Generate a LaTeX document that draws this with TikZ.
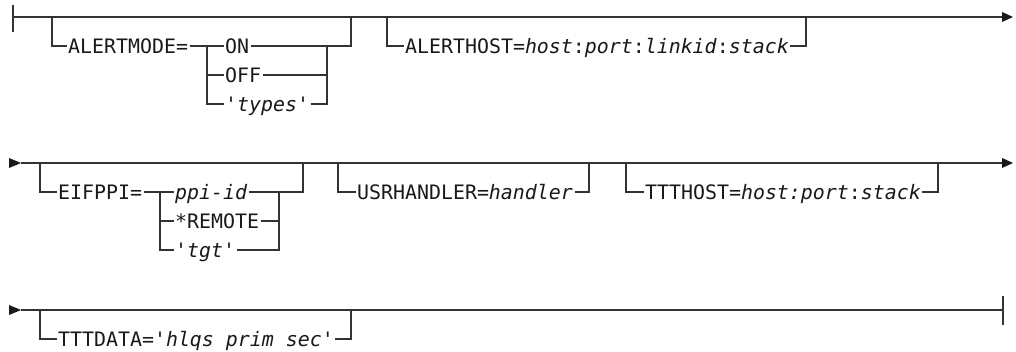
\documentclass[tikz,border=0pt]{standalone}
\usepackage{fontspec}
\setmonofont{DejaVu Sans Mono}
\begin{document}
\begin{tikzpicture}[x=1pt,y=-1pt,
  rail/.style={draw=black!80,line width=1.2pt},
  tipfill/.style={fill=black!90},
  lbl/.style={anchor=base west,inner xsep=1.5pt,inner ysep=0pt,text=black!90,
    font=\ttfamily\fontsize{19.9}{22}\selectfont}]
\useasboundingbox (0,0) rectangle (1016,352);
% row coordinates
\coordinate (y17) at (0,17);  \coordinate (y46) at (0,46);
\coordinate (y75) at (0,75);  \coordinate (y104) at (0,104);
\coordinate (y163) at (0,163); \coordinate (y192) at (0,192);
\coordinate (y221) at (0,221); \coordinate (y250) at (0,250);
\coordinate (y310) at (0,310); \coordinate (y339) at (0,339);

% ---------------- Row 1 ----------------
\coordinate (s1) at (13,17);
\coordinate (e1) at (1002,17);
\draw[rail] (13,5) -- (13,32);
\draw[rail] (s1) -- (e1);
\fill[tipfill] (1002,12) -- (1013,17) -- (1002,22) -- cycle;

\node[lbl] (am) at (66.5,53.5) {ALERTMODE=};
\node[lbl] (on) at (223.5,53.5) {ON};
\node[lbl] (off) at (223.5,82.5) {OFF};
\node[lbl] (ty) at (223.5,111.5) {\textit{'types'}};
\coordinate (amL) at (52,17);
\coordinate (amR) at (351,17);
\coordinate (ch1) at (207,46);
\coordinate (ch1b) at (207,104);
\coordinate (cr1) at (327,46);
\coordinate (cr1b) at (327,104);
\draw[rail] (amL) |- (am.west |- y46);
\draw[rail] (am.east |- y46) -- (ch1) -- (ch1b) -- (ty.west |- y104);
\draw[rail] (ch1) -- (on.west |- y46);
\draw[rail] (207,75) -- (off.west |- y75);
\draw[rail] (on.east |- y46) -| (amR);
\draw[rail] (off.east |- y75) -- (327,75);
\draw[rail] (ty.east |- y104) -- (cr1b) -- (cr1);

\node[lbl] (ah) at (403.5,53.5) {ALERTHOST=\textit{host}:\textit{port}:\textit{linkid}:\textit{stack}};
\coordinate (ahL) at (387,17);
\coordinate (ahR) at (806,17);
\draw[rail] (ahL) |- (ah.west |- y46);
\draw[rail] (ah.east |- y46) -| (ahR);

% ---------------- Row 2 ----------------
\coordinate (s2) at (21,163);
\coordinate (e2) at (1002,163);
\fill[tipfill] (9,158) -- (21,163) -- (9,168) -- cycle;
\draw[rail] (s2) -- (e2);
\fill[tipfill] (1002,158) -- (1013,163) -- (1002,168) -- cycle;

\node[lbl] (ei) at (56.5,199.5) {EIFPPI=};
\node[lbl] (pp) at (173.5,199.5) {\textit{ppi-id}};
\node[lbl] (rm) at (173.5,228.5) {*REMOTE};
\node[lbl] (tg) at (173.5,257.5) {\textit{'tgt'}};
\coordinate (eiL) at (40,163);
\coordinate (eiR) at (303,163);
\coordinate (ch2) at (160,192);
\coordinate (ch2b) at (160,250);
\coordinate (cr2) at (279,192);
\coordinate (cr2b) at (279,250);
\draw[rail] (eiL) |- (ei.west |- y192);
\draw[rail] (ei.east |- y192) -- (ch2) -- (ch2b) -- (tg.west |- y250);
\draw[rail] (ch2) -- (pp.west |- y192);
\draw[rail] (160,221) -- (rm.west |- y221);
\draw[rail] (pp.east |- y192) -| (eiR);
\draw[rail] (rm.east |- y221) -- (279,221);
\draw[rail] (tg.east |- y250) -- (cr2b) -- (cr2);

\node[lbl] (us) at (355.5,199.5) {USRHANDLER=\textit{handler}};
\coordinate (usL) at (338,163);
\coordinate (usR) at (589,163);
\draw[rail] (usL) |- (us.west |- y192);
\draw[rail] (us.east |- y192) -| (usR);

\node[lbl] (tt) at (643.5,199.5) {TTTHOST=\textit{host:port}:\textit{stack}};
\coordinate (ttL) at (626,163);
\coordinate (ttR) at (938,163);
\draw[rail] (ttL) |- (tt.west |- y192);
\draw[rail] (tt.east |- y192) -| (ttR);

% ---------------- Row 3 ----------------
\coordinate (s3) at (21,310);
\coordinate (e3) at (1003,310);
\fill[tipfill] (9,305) -- (21,310) -- (9,315) -- cycle;
\draw[rail] (s3) -- (e3);
\draw[rail] (1003,296) -- (1003,325);

\node[lbl] (td) at (56.5,346.5) {TTTDATA='\textit{hlqs prim sec}'};
\coordinate (tdL) at (40,310);
\coordinate (tdR) at (351,310);
\draw[rail] (tdL) |- (td.west |- y339);
\draw[rail] (td.east |- y339) -| (tdR);
\end{tikzpicture}
\end{document}
